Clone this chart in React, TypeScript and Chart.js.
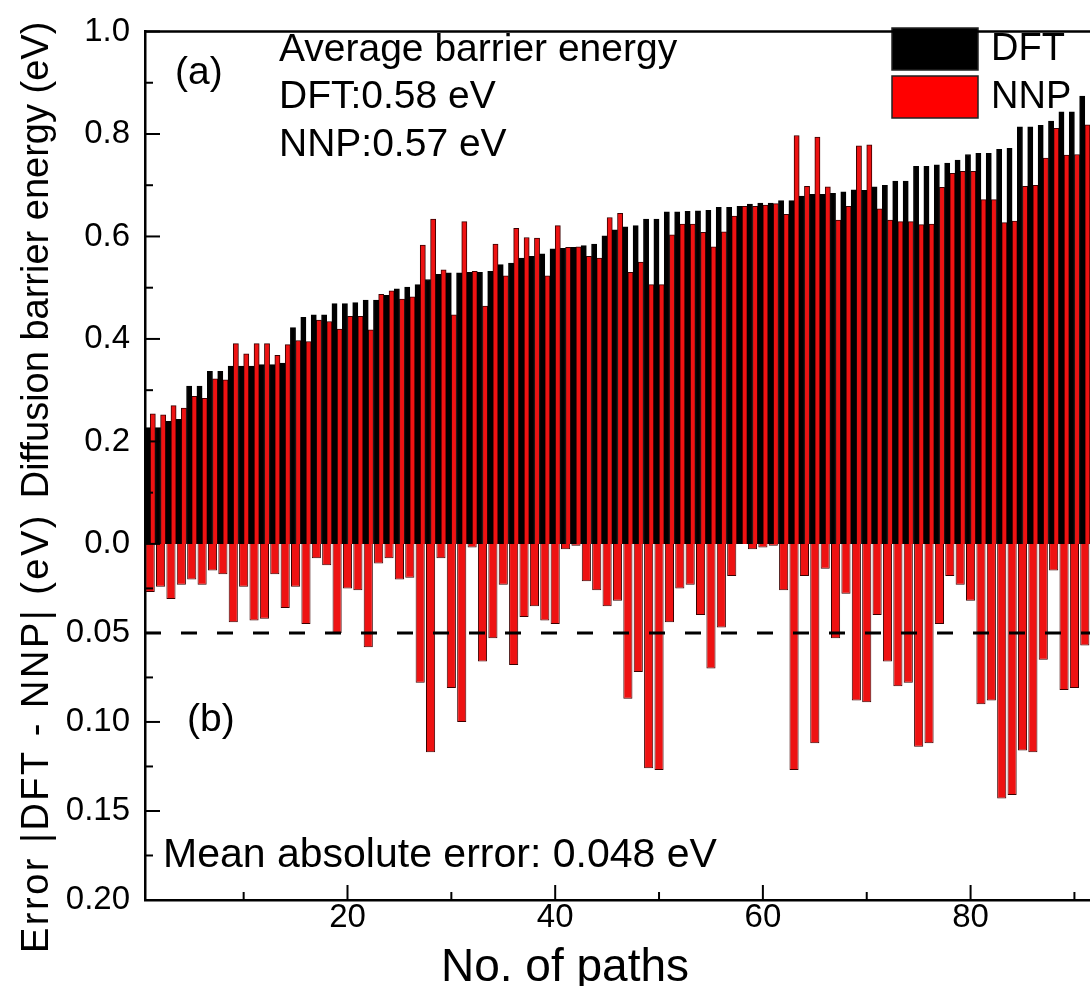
import React, { useEffect, useRef } from "react";
import { Chart, registerables } from "chart.js";

Chart.register(...registerables);

// ---------- data ----------
const paths: number[] = Array.from({ length: 91 }, (_, i) => i + 1);

const dftBarrier = [
  0.227, 0.227, 0.239, 0.243, 0.308, 0.308, 0.337, 0.337, 0.347, 0.347,
  0.347, 0.350, 0.350, 0.353, 0.422, 0.442, 0.447, 0.447, 0.469, 0.469,
  0.471, 0.476, 0.476, 0.485, 0.498, 0.501, 0.506, 0.516, 0.526, 0.529,
  0.529, 0.530, 0.530, 0.532, 0.545, 0.548, 0.558, 0.561, 0.566, 0.576,
  0.577, 0.579, 0.582, 0.585, 0.601, 0.613, 0.619, 0.621, 0.634, 0.634,
  0.648, 0.648, 0.649, 0.650, 0.651, 0.657, 0.657, 0.659, 0.663, 0.665,
  0.665, 0.670, 0.670, 0.679, 0.682, 0.682, 0.684, 0.687, 0.691, 0.690,
  0.697, 0.700, 0.708, 0.708, 0.737, 0.737, 0.740, 0.743, 0.749, 0.760,
  0.762, 0.762, 0.770, 0.772, 0.814, 0.814, 0.817, 0.825, 0.843, 0.843,
  0.874,
];

const nnpBarrier = [
  0.254, 0.252, 0.270, 0.265, 0.288, 0.284, 0.322, 0.320, 0.391, 0.371,
  0.391, 0.391, 0.368, 0.389, 0.397, 0.395, 0.437, 0.434, 0.419, 0.444,
  0.444, 0.418, 0.487, 0.494, 0.478, 0.482, 0.583, 0.634, 0.535, 0.447,
  0.629, 0.532, 0.464, 0.585, 0.523, 0.616, 0.598, 0.597, 0.523, 0.621,
  0.579, 0.580, 0.561, 0.558, 0.637, 0.645, 0.530, 0.550, 0.506, 0.506,
  0.603, 0.624, 0.624, 0.608, 0.580, 0.609, 0.640, 0.659, 0.659, 0.661,
  0.664, 0.643, 0.797, 0.698, 0.794, 0.697, 0.632, 0.659, 0.777, 0.779,
  0.654, 0.632, 0.629, 0.629, 0.623, 0.624, 0.696, 0.723, 0.727, 0.727,
  0.672, 0.672, 0.627, 0.630, 0.698, 0.700, 0.753, 0.811, 0.759, 0.760,
  0.818,
];

const absError = [
  0.027, 0.024, 0.031, 0.023, 0.020, 0.023, 0.015, 0.017, 0.044, 0.024,
  0.043, 0.042, 0.017, 0.036, 0.024, 0.045, 0.008, 0.012, 0.050, 0.025,
  0.026, 0.058, 0.011, 0.008, 0.020, 0.019, 0.078, 0.117, 0.008, 0.081,
  0.100, 0.002, 0.066, 0.053, 0.023, 0.068, 0.041, 0.035, 0.043, 0.045,
  0.003, 0.001, 0.021, 0.026, 0.035, 0.032, 0.087, 0.072, 0.126, 0.127,
  0.044, 0.025, 0.023, 0.040, 0.070, 0.047, 0.018, 0.000, 0.003, 0.002,
  0.001, 0.026, 0.127, 0.018, 0.112, 0.014, 0.053, 0.028, 0.088, 0.089,
  0.040, 0.066, 0.080, 0.078, 0.114, 0.112, 0.045, 0.018, 0.023, 0.032,
  0.090, 0.088, 0.143, 0.141, 0.116, 0.117, 0.065, 0.015, 0.082, 0.081,
  0.057,
];

const yTopTicks = [0, 0.2, 0.4, 0.6, 0.8, 1.0];
const yTopMinor = [0.1, 0.3, 0.5, 0.7, 0.9];
const yBotTicks = [0.05, 0.1, 0.15, 0.2];
const yBotMinor = [0.025, 0.075, 0.125, 0.175];
const xTicks = [20, 40, 60, 80];
const xMinor = [10, 30, 50, 70, 90];
const errorThreshold = 0.05;

const FONT = "'Liberation Sans', Arial, Helvetica, sans-serif";
const RED = "#ee1212";
const RED_EDGE = "#3a0000";

const overlayPlugin = {
  id: "overlay",
  beforeDatasetsDraw(chart: any) {
    const ctx = chart.ctx as CanvasRenderingContext2D;
    ctx.save();
    // legend
    ctx.lineWidth = 1.5;
    ctx.strokeStyle = "#222";
    ctx.fillStyle = "#000";
    ctx.fillRect(892, 28, 86, 42);
    ctx.strokeRect(892, 28, 86, 42);
    ctx.fillStyle = "#ff0000";
    ctx.fillRect(892, 76, 86, 42);
    ctx.strokeRect(892, 76, 86, 42);
    ctx.fillStyle = "#000";
    ctx.font = `38px ${FONT}`;
    ctx.textBaseline = "middle";
    ctx.textAlign = "left";
    ctx.fillText("DFT", 991, 50);
    ctx.fillText("NNP", 991, 98);
    ctx.restore();
  },
  afterDatasetsDraw(chart: any) {
    const ctx = chart.ctx as CanvasRenderingContext2D;
    const { chartArea, scales } = chart;
    const xs = scales.x;
    const yT = scales.yTop;
    const yB = scales.yBot;
    const L = chartArea.left;
    const B = chartArea.bottom;
    ctx.save();
    ctx.strokeStyle = "#000";
    // dashed threshold line
    const yd = yB.getPixelForValue(errorThreshold);
    ctx.setLineDash([16, 20]);
    ctx.lineWidth = 3;
    ctx.beginPath();
    ctx.moveTo(L, yd);
    ctx.lineTo(chartArea.right, yd);
    ctx.stroke();
    ctx.setLineDash([]);
    // top frame line
    ctx.lineWidth = 2.5;
    ctx.beginPath();
    ctx.moveTo(L, chartArea.top);
    ctx.lineTo(chartArea.right, chartArea.top);
    ctx.stroke();
    // inward ticks
    ctx.lineWidth = 2;
    const tickY = (scale: any, vals: number[], len: number) => {
      vals.forEach((v) => {
        const p = scale.getPixelForValue(v);
        ctx.beginPath();
        ctx.moveTo(L, p);
        ctx.lineTo(L + len, p);
        ctx.stroke();
      });
    };
    tickY(yT, yTopTicks, 15);
    tickY(yT, yTopMinor, 8);
    tickY(yB, yBotTicks, 15);
    tickY(yB, yBotMinor, 8);
    const tickX = (vals: number[], len: number) => {
      vals.forEach((v) => {
        const p = xs.getPixelForValue(v);
        ctx.beginPath();
        ctx.moveTo(p, B);
        ctx.lineTo(p, B - len);
        ctx.stroke();
      });
    };
    tickX(xTicks, 15);
    tickX(xMinor, 8);

    // annotations
    ctx.fillStyle = "#000";
    ctx.textBaseline = "middle";
    ctx.textAlign = "left";
    ctx.font = `39px ${FONT}`;
    ctx.fillText("(a)", 175, 73);
    ctx.fillText("Average barrier energy", 279, 50);
    ctx.fillText("DFT:0.58 eV", 279, 97);
    ctx.fillText("NNP:0.57 eV", 279, 145);
    ctx.fillText("(b)", 187, 720);
    ctx.font = `41px ${FONT}`;
    ctx.fillText("Mean absolute error: 0.048 eV", 163, 856);

    // axis titles
    ctx.textAlign = "center";
    ctx.font = `38px ${FONT}`;
    ctx.save();
    ctx.translate(38, 260);
    ctx.rotate(-Math.PI / 2);
    ctx.fillText("Diffusion barrier energy (eV)", 0, 0);
    ctx.restore();
    ctx.save();
    ctx.translate(38, 733);
    ctx.rotate(-Math.PI / 2);
    (ctx as any).letterSpacing = "2.5px";
    ctx.fillText("Error |DFT - NNP| (eV)", 0, 0);
    (ctx as any).letterSpacing = "0px";
    ctx.restore();
    ctx.font = `46px ${FONT}`;
    ctx.textBaseline = "alphabetic";
    ctx.fillText("No. of paths", 565, 981);
    ctx.restore();
  },
};

export default function App() {
  const ref = useRef<HTMLCanvasElement | null>(null);

  useEffect(() => {
    if (!ref.current) return;
    const tickFont = { family: FONT, size: 33, lineHeight: 1 };
    const chart = new Chart(ref.current, {
      type: "bar",
      data: {
        datasets: [
          {
            label: "DFT",
            data: paths.map((p, i) => ({ x: p, y: dftBarrier[i] })),
            yAxisID: "yTop",
            backgroundColor: "#000",
            borderColor: "#000",
            borderWidth: 1,
            barPercentage: 1,
            categoryPercentage: 1,
          },
          {
            label: "NNP",
            data: paths.map((p, i) => ({ x: p, y: nnpBarrier[i] })),
            yAxisID: "yTop",
            backgroundColor: RED,
            borderColor: RED_EDGE,
            borderWidth: 1,
            barPercentage: 1,
            categoryPercentage: 1,
          },
          {
            label: "Error",
            data: paths.map((p, i) => ({ x: p, y: absError[i] })),
            yAxisID: "yBot",
            grouped: false,
            backgroundColor: RED,
            borderColor: RED_EDGE,
            borderWidth: 1,
            barPercentage: 0.88,
            categoryPercentage: 1,
          },
        ] as any,
      },
      options: {
        animation: false,
        responsive: false,
        maintainAspectRatio: false,
        layout: { padding: { top: 22, left: 0, right: 0, bottom: 0 } },
        plugins: {
          legend: { display: false },
          tooltip: { enabled: false },
        },
        scales: {
          x: {
            type: "linear",
            min: 0.5,
            max: 91.5,
            offset: false,
            grid: { display: false, drawTicks: false },
            border: { display: true, color: "#000", width: 2.5 },
            afterBuildTicks: (s: any) => {
              s.ticks = xTicks.map((v) => ({ value: v }));
            },
            afterFit: (s: any) => {
              s.height = 86;
            },
            ticks: {
              font: tickFont,
              color: "#000",
              padding: 1,
              maxRotation: 0,
              autoSkip: false,
              callback: (v: any) => String(v),
            },
          },
          yTop: {
            type: "linear",
            position: "left",
            stack: "v",
            stackWeight: 518,
            weight: 1,
            min: 0,
            max: 1,
            grid: { display: false, drawTicks: false },
            border: { display: true, color: "#000", width: 2.5 },
            afterBuildTicks: (s: any) => {
              s.ticks = yTopTicks.map((v) => ({ value: v }));
            },
            afterFit: (s: any) => {
              s.width = 145;
            },
            ticks: {
              font: tickFont,
              color: "#000",
              padding: 15,
              callback: (v: any) => Number(v).toFixed(1),
            },
          },
          yBot: {
            type: "linear",
            position: "left",
            stack: "v",
            stackWeight: 360,
            weight: 0,
            min: 0,
            max: 0.2,
            reverse: true,
            grid: { display: false, drawTicks: false },
            border: { display: true, color: "#000", width: 2.5 },
            afterBuildTicks: (s: any) => {
              s.ticks = yBotTicks.map((v) => ({ value: v }));
            },
            afterFit: (s: any) => {
              s.width = 145;
            },
            ticks: {
              font: tickFont,
              color: "#000",
              padding: 15,
              callback: (v: any) => Number(v).toFixed(2),
            },
          },
        } as any,
      },
      plugins: [overlayPlugin],
    });
    return () => chart.destroy();
  }, []);

  return (
    <div style={{ position: "fixed", left: 0, top: 0, width: 1090, height: 986, background: "#fff" }}>
      <canvas ref={ref} width={1090} height={986} style={{ display: "block" }} />
    </div>
  );
}
